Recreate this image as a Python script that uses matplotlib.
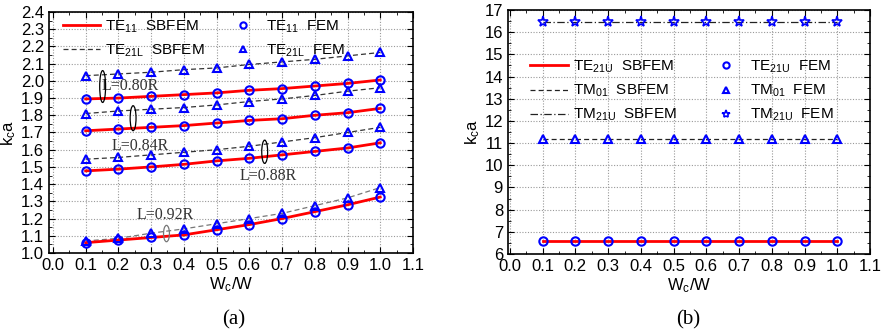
import matplotlib
matplotlib.use("Agg")
import matplotlib.pyplot as plt
from matplotlib.patches import Ellipse
from matplotlib.ticker import MultipleLocator, FormatStrFormatter

plt.rcParams['font.family'] = ['Liberation Sans', 'DejaVu Sans']
plt.rcParams['mathtext.fontset'] = 'custom'
plt.rcParams['mathtext.rm'] = 'Liberation Sans'
plt.rcParams['mathtext.it'] = 'Liberation Sans'

wc = [0.1, 0.2, 0.3, 0.4, 0.5, 0.6, 0.7, 0.8, 0.9, 1.0]

# Panel (a): TE11 and TE21L for several L
te11_080 = [1.895, 1.90, 1.91, 1.92, 1.93, 1.945, 1.955, 1.97, 1.985, 2.005]
te21l_080 = [2.03, 2.04, 2.05, 2.065, 2.075, 2.095, 2.11, 2.125, 2.145, 2.165]
te11_084 = [1.71, 1.72, 1.73, 1.74, 1.755, 1.77, 1.78, 1.80, 1.815, 1.84]
te21l_084 = [1.81, 1.825, 1.835, 1.845, 1.86, 1.88, 1.895, 1.915, 1.94, 1.96]
te11_088 = [1.477, 1.487, 1.50, 1.515, 1.535, 1.55, 1.57, 1.59, 1.61, 1.64]
te21l_088 = [1.545, 1.555, 1.57, 1.585, 1.60, 1.62, 1.645, 1.67, 1.70, 1.73]
te11_092 = [1.06, 1.075, 1.09, 1.105, 1.135, 1.165, 1.20, 1.24, 1.28, 1.325]
te21l_092 = [1.07, 1.085, 1.115, 1.14, 1.17, 1.20, 1.23, 1.275, 1.32, 1.38]

# Panel (b)
te21u = [6.6] * 10
tm01 = [11.2] * 10
tm21u = [16.45] * 10

fig = plt.figure(figsize=(8.87, 3.35), dpi=100)
axa = fig.add_axes([0.0552, 0.2448, 0.4104, 0.7194])
axb = fig.add_axes([0.5727, 0.2418, 0.4081, 0.7283])

blue = '#0000ff'
red = '#ff0000'
mk = dict(linestyle='none', markerfacecolor='none', markeredgecolor=blue,
          markeredgewidth=1.5, markersize=6)

pairs = [(te11_080, te21l_080), (te11_084, te21l_084),
         (te11_088, te21l_088), (te11_092, te21l_092)]
for i, (a, b) in enumerate(pairs):
    dcol = '#777777' if i == 3 else '#333333'
    axa.plot(wc, b, linestyle=(0, (4, 2.5)), color=dcol, lw=0.9, zorder=2,
             label='TE$_{21L}$  SBFEM' if i == 0 else None)
    axa.plot(wc, a, color=red, lw=2, zorder=3,
             label='TE$_{11}$  SBFEM' if i == 0 else None)
    axa.plot(wc, a, marker='o', zorder=4, label='TE$_{11}$  FEM' if i == 0 else None, **mk)
    axa.plot(wc, b, marker='^', zorder=4, label='TE$_{21L}$  FEM' if i == 0 else None, **mk)

axa.set_xlim(-0.012, 1.1)
axa.set_ylim(1.0, 2.4)
axa.xaxis.set_major_locator(MultipleLocator(0.1))
axa.yaxis.set_major_locator(MultipleLocator(0.1))
axa.xaxis.set_minor_locator(MultipleLocator(0.05))
axa.yaxis.set_minor_locator(MultipleLocator(0.05))
axa.xaxis.set_major_formatter(FormatStrFormatter('%.1f'))
axa.yaxis.set_major_formatter(FormatStrFormatter('%.1f'))

h, l = axa.get_legend_handles_labels()
order = ['TE$_{11}$  SBFEM', 'TE$_{21L}$  SBFEM', 'TE$_{11}$  FEM', 'TE$_{21L}$  FEM']
hh = [h[l.index(o)] for o in order]
leg = axa.legend(hh, order, ncol=2, loc='upper left', bbox_to_anchor=(0.0385, 0.972),
                 frameon=False, fontsize=11, handlelength=2.4, handletextpad=0.33,
                 columnspacing=1.3, labelspacing=0.5, borderpad=0.0, borderaxespad=0,
                 markerscale=0.75)

serif = ['Liberation Serif', 'DejaVu Serif']
ann = dict(fontsize=11.5, family=serif, color='#333333')
axa.text(0.148, 1.97, 'L=0.80R', va='center', ha='left', **ann)
axa.text(0.18, 1.62, 'L=0.84R', va='center', ha='left', **ann)
axa.text(0.57, 1.45, 'L=0.88R', va='center', ha='left', **ann)
axa.text(0.255, 1.22, 'L=0.92R', va='center', ha='left', **ann)
for (cx, cy, hgt, col) in [(0.152, 1.967, 0.185, 'black'), (0.245, 1.783, 0.145, 'black'),
                           (0.647, 1.588, 0.135, 'black'), (0.347, 1.113, 0.095, '#777777')]:
    axa.add_patch(Ellipse((cx, cy), 0.018, hgt, fill=False, edgecolor=col, lw=0.9, zorder=6))

# Panel (b)
axb.plot(wc, tm01, linestyle=(0, (4, 2.5)), color='#222222', lw=0.9, zorder=2, label='TM$_{01}$  SBFEM')
axb.plot(wc, tm21u, linestyle=(0, (6, 2, 1, 2)), color='#222222', lw=0.9, zorder=2, label='TM$_{21U}$  SBFEM')
axb.plot(wc, te21u, color=red, lw=2, zorder=3, label='TE$_{21U}$  SBFEM')
axb.plot(wc, te21u, marker='o', zorder=4, label='TE$_{21U}$  FEM', **mk)
axb.plot(wc, tm01, marker='^', zorder=4, label='TM$_{01}$  FEM', **mk)
axb.plot(wc, tm21u, marker='*', zorder=4, label='TM$_{21U}$  FEM',
         **{**mk, 'markersize': 8, 'markeredgewidth': 1.2})
axb.set_xlim(-0.006, 1.1)
axb.set_ylim(6, 17)
axb.xaxis.set_major_locator(MultipleLocator(0.1))
axb.yaxis.set_major_locator(MultipleLocator(1))
axb.xaxis.set_minor_locator(MultipleLocator(0.05))
axb.yaxis.set_minor_locator(MultipleLocator(0.5))
axb.xaxis.set_major_formatter(FormatStrFormatter('%.1f'))

h, l = axb.get_legend_handles_labels()
order = ['TE$_{21U}$  SBFEM', 'TM$_{01}$  SBFEM', 'TM$_{21U}$  SBFEM',
         'TE$_{21U}$  FEM', 'TM$_{01}$  FEM', 'TM$_{21U}$  FEM']
hh = [h[l.index(o)] for o in order]
leg = axb.legend(hh, order, ncol=2, loc='upper left', bbox_to_anchor=(0.061, 0.80),
                 frameon=False, fontsize=11, handlelength=2.5, handletextpad=0.3,
                 columnspacing=2.0, labelspacing=0.5, borderpad=0.0, borderaxespad=0,
                 markerscale=0.75)

for ax in (axa, axb):
    ax.grid(True, which='major', linestyle=(0, (1, 1.5)), color='#999999', lw=0.8)
    ax.tick_params(which='both', direction='in', top=True, right=True, labelsize=12)
    ax.tick_params(which='major', length=4)
    ax.tick_params(which='minor', length=2.5)
    for s in ax.spines.values():
        s.set_linewidth(1.2)
    ax.set_xlabel('W$_c$/W', fontsize=12, labelpad=2)
    ax.set_ylabel('k$_c$a', fontsize=12, labelpad=2)

fig.text(0.263, 0.045, '(a)', ha='center', va='center', fontsize=15, family=serif)
fig.text(0.776, 0.045, '(b)', ha='center', va='center', fontsize=15, family=serif)

fig.savefig('out.png', dpi=100)
